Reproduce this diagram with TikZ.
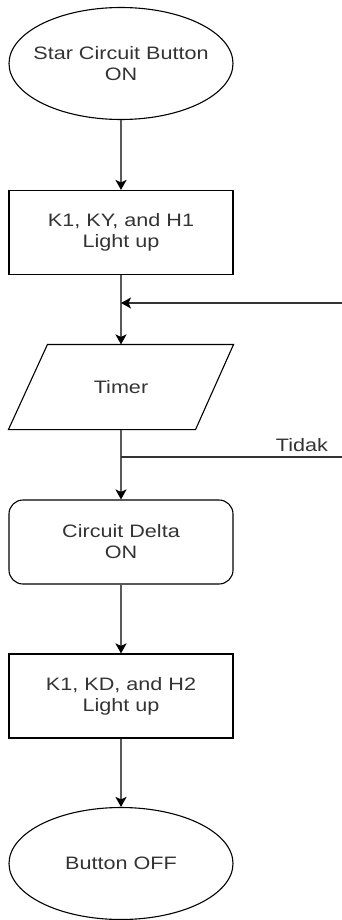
\documentclass[tikz,border=0pt]{standalone}
\usepackage{fontspec}
\setmainfont{Liberation Sans}[FakeStretch=1.2]
\usetikzlibrary{shapes.geometric,arrows.meta}

\tikzset{
  base/.style={draw=black, line width=1.1pt, text=black!80, align=center,
    minimum width=224pt, font=\fontsize{18}{21}\selectfont},
  terminal/.style={base, ellipse, minimum height=112pt, inner xsep=-30pt, inner ysep=0pt},
  process/.style={base, rectangle, minimum height=84pt},
  roundbox/.style={base, rectangle, rounded corners=14pt, minimum height=84pt},
  iobox/.style={base, draw=none, rectangle, minimum height=84pt},
  flow/.style={line width=2.2pt, draw=black!65, -{Stealth[length=10pt,width=11pt,inset=2.5pt,black]}},
  side/.style={line width=1.2pt, draw=black!80}
}

\begin{document}
\begin{tikzpicture}[x=1pt,y=-1pt]
\useasboundingbox (0,0) rectangle (342,920);

\node[terminal] (start) at (121,63.5) {Star Circuit Button\\ON};
\node[process]  (star)  at (121,232.5) {K1, KY, and H1\\Light up};
\node[iobox]    (timer) at (121,387) {Timer};
\node[roundbox] (delta) at (121,542) {Circuit Delta\\ON};
\node[process]  (light) at (121,696) {K1, KD, and H2\\Light up};
\node[terminal] (stop)  at (121,863.5) {Button OFF};

% parallelogram round the timer node
\draw[line width=1.1pt, line join=miter]
  ([xshift=39pt]timer.north west) -- (timer.north east)
  -- ([xshift=-38pt]timer.south east) -- (timer.south west) -- cycle;

\coordinate (loopin) at (342,303);
\coordinate (loopjoin) at (121,303);
\coordinate (noout) at (342,457);
\coordinate (nojoin) at (121,457);

\draw[flow] (start) -- (star);
\draw[flow] (star) -- (timer);
\draw[flow] (timer) -- (delta);
\draw[flow] (delta) -- (light);
\draw[flow] (light) -- (stop);

\draw[side, -{Stealth[length=10pt,width=11pt,inset=2.5pt,black]}] (loopin) -- (loopjoin);
\draw[side] (nojoin) -- (noout);
\node[text=black!80, font=\fontsize{18}{21}\selectfont, anchor=south] (tidak) at (302,455) {Tidak};
\end{tikzpicture}
\end{document}
